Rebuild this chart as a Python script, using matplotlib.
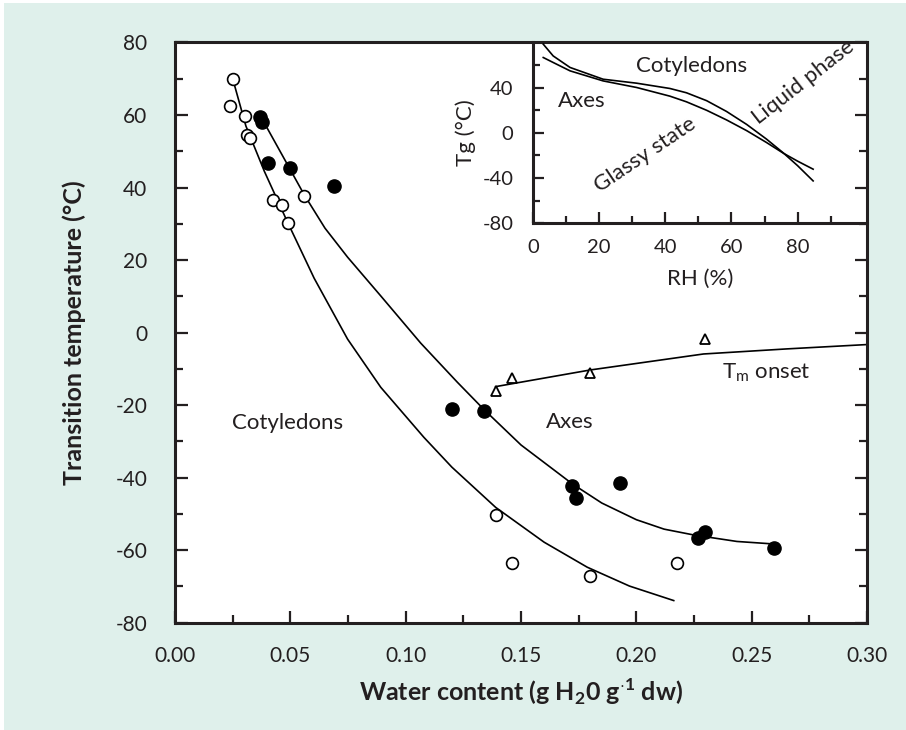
import matplotlib
matplotlib.use('Agg')
import matplotlib.pyplot as plt
from matplotlib.patches import Rectangle
from matplotlib.ticker import MultipleLocator, FormatStrFormatter

# fonts (Gill Sans look-alike)
plt.rcParams['font.family'] = ['Lato', 'DejaVu Sans']
plt.rcParams['mathtext.fontset'] = 'custom'
plt.rcParams['mathtext.rm'] = 'Lato'
plt.rcParams['mathtext.bf'] = 'Lato:bold'
plt.rcParams['axes.unicode_minus'] = False

#==================================================================================================================#
# DATA
#==================================================================================================================#

# cotyledons, open circles
coty_wc = [0.0250, 0.0239, 0.0303, 0.0310, 0.0325, 0.0423, 0.0462, 0.0489, 0.0560, 0.1390, 0.1459, 0.1798, 0.2176]
coty_t = [70.0, 62.5, 59.6, 54.6, 53.7, 36.6, 35.3, 30.2, 37.8, -50.3, -63.6, -67.0, -63.6]

# axes, filled circles
axes_wc = [0.0370, 0.0378, 0.0401, 0.0499, 0.0691, 0.1199, 0.1339, 0.1719, 0.1737, 0.1928, 0.2267, 0.2299, 0.2597]
axes_t = [59.5, 58.0, 46.7, 45.3, 40.3, -21.1, -21.5, -42.4, -45.7, -41.6, -56.6, -55.1, -59.4]

# Tm onset, open triangles
tm_wc = [0.1390, 0.1459, 0.1801, 0.2296]
tm_t = [-16.2, -12.5, -11.2, -1.9]

# fitted curves (traced)
coty_fit_wc = [0.0250, 0.0307, 0.0387, 0.0488, 0.0524, 0.0603, 0.0748, 0.0892, 0.1079, 0.1200,
               0.1390, 0.1600, 0.1787, 0.1970, 0.2162]
coty_fit_t = [70.0, 57.0, 44.5, 30.4, 25.6, 15.0, -1.8, -15.1, -28.9, -37.1,
              -48.2, -57.8, -64.7, -69.9, -73.9]

axes_fit_wc = [0.0375, 0.0499, 0.0560, 0.0650, 0.0748, 0.0892, 0.1065, 0.1224, 0.1339, 0.1500,
               0.1722, 0.1850, 0.2000, 0.2120, 0.2248, 0.2436, 0.2597]
axes_fit_t = [59.2, 45.0, 38.0, 28.8, 20.8, 10.1, -2.9, -13.7, -21.2, -31.0,
              -41.7, -47.0, -51.6, -54.2, -55.8, -57.6, -58.3]

tm_fit_wc = [0.1390, 0.1801, 0.2291, 0.2652, 0.3000]
tm_fit_t = [-14.9, -10.3, -5.9, -4.5, -3.3]

# inset: Tg versus RH
inset_rh = [3.1, 6.1, 11.2, 21.2, 31.3, 41.4, 46.4, 52.5, 58.5, 64.6, 70.6, 75.6, 80.0, 84.7]
inset_coty_tg = [78.5, 68.1, 57.9, 47.5, 44.0, 39.3, 35.5, 28.5, 19.0, 7.5, -5.5, -17.5, -29.0, -42.5]
inset_axes_tg = [66.7, 62.3, 54.9, 46.0, 40.2, 32.5, 27.5, 20.0, 11.5, 2.0, -8.5, -17.8, -25.0, -32.1]

#==================================================================================================================#
# FIGURE
#==================================================================================================================#

panel = '#dff0eb'
ink = '#231f20'
fig = plt.figure(figsize=(9.06, 7.30), dpi=100, facecolor='white')
fig.patches.append(Rectangle((4 / 906, 0), 1, (730 - 3) / 730, transform=fig.transFigure,
                             facecolor=panel, edgecolor='none', zorder=-10))

ax = fig.add_axes([0.1932, 0.1470, 0.7638, 0.7948])
ax.set_facecolor('white')

for s in ax.spines.values():
    s.set_linewidth(2.2)
    s.set_color(ink)

ax.xaxis.set_major_locator(MultipleLocator(0.05))
ax.xaxis.set_minor_locator(MultipleLocator(0.025))
ax.xaxis.set_major_formatter(FormatStrFormatter('%.2f'))
ax.yaxis.set_major_locator(MultipleLocator(20))
ax.yaxis.set_minor_locator(MultipleLocator(10))
ax.tick_params(which='both', direction='in', top=False, right=True, width=1.6, color=ink)
ax.tick_params(which='major', length=9)
ax.tick_params(which='minor', length=6)
ax.tick_params(axis='x', which='major', labelsize=15, pad=17, labelcolor=ink)
ax.tick_params(axis='y', which='major', labelsize=15, pad=20, labelcolor=ink)

# curves
ax.plot(coty_fit_wc, coty_fit_t, color='black', lw=1.2)
ax.plot(axes_fit_wc, axes_fit_t, color='black', lw=1.2)
ax.plot(tm_fit_wc, tm_fit_t, color='black', lw=1.2, clip_on=False)

# points
ax.plot(coty_wc, coty_t, 'o', ms=8.5, mfc='white', mec='black', mew=1.2)
ax.plot(axes_wc, axes_t, 'o', ms=9.5, mfc='black', mec='black')
ax.plot(tm_wc, tm_t, '^', ms=7.5, mfc='white', mec='black', mew=1.3)

ax.set_xlim(0, 0.30)
ax.set_ylim(-80, 80)

# annotations
ax.text(0.0486, -24.8, 'Cotyledons', fontsize=16, ha='center', va='center', color=ink)
ax.text(0.1712, -24.7, 'Axes', fontsize=16, ha='center', va='center', color=ink)
ax.text(0.2370, -11.0, r'T$_\mathrm{m}$ onset', fontsize=16, ha='left', va='center', color=ink)

ax.set_xlabel(r'Water content (g H$_\mathbf{2}$0 g$^{\mathbf{\cdot 1}}$ dw)', fontsize=18, fontweight='bold', color=ink)
ax.set_ylabel('Transition temperature (°C)', fontsize=18, fontweight='bold', color=ink)
ax.xaxis.set_label_coords(0.5, -0.093)
ax.yaxis.set_label_coords(-0.128, 0.5)

#==================================================================================================================#
# INSET
#==================================================================================================================#

ins = fig.add_axes([0.5883, 0.6941, 0.3687, 0.2477])
ins.set_facecolor('none')
ins.spines['top'].set_visible(False)
ins.spines['right'].set_visible(False)
for side in ['left', 'bottom']:
    ins.spines[side].set_linewidth(2.2)
    ins.spines[side].set_color(ink)

ins.plot(inset_rh, inset_coty_tg, color='black', lw=1.2, clip_on=False)
ins.plot(inset_rh, inset_axes_tg, color='black', lw=1.2)

ins.set_xlim(0, 101)
ins.set_ylim(-80, 80)
ins.set_xticks([0, 20, 40, 60, 80])
ins.set_xticks([10, 30, 50, 70, 90], minor=True)
ins.set_yticks([-80, -40, 0, 40])
ins.set_yticks([-60, -20, 20, 60], minor=True)
ins.tick_params(which='both', direction='in', width=1.6, color=ink)
ins.tick_params(which='major', length=8)
ins.tick_params(which='minor', length=5)
ins.tick_params(axis='x', which='major', labelsize=14.5, pad=11, labelcolor=ink)
ins.tick_params(axis='y', which='major', labelsize=14.5, pad=14, labelcolor=ink)

ins.text(47.9, 59.3, 'Cotyledons', fontsize=16, ha='center', va='center', color=ink)
ins.text(14.7, 28.3, 'Axes', fontsize=16, ha='center', va='center', color=ink)
ins.text(33.8, -19.5, 'Glassy state', fontsize=16, ha='center', va='center', rotation=34, color=ink)
ins.text(81.8, 45.0, 'Liquid phase', fontsize=16, ha='center', va='center', rotation=38, color=ink)

ins.set_xlabel('RH (%)', fontsize=16, color=ink)
ins.set_ylabel('Tg (°C)', fontsize=16, color=ink)
ins.xaxis.set_label_coords(0.5, -0.25)
ins.yaxis.set_label_coords(-0.17, 0.5)

fig.savefig('out.png', dpi=100, facecolor=fig.get_facecolor())
